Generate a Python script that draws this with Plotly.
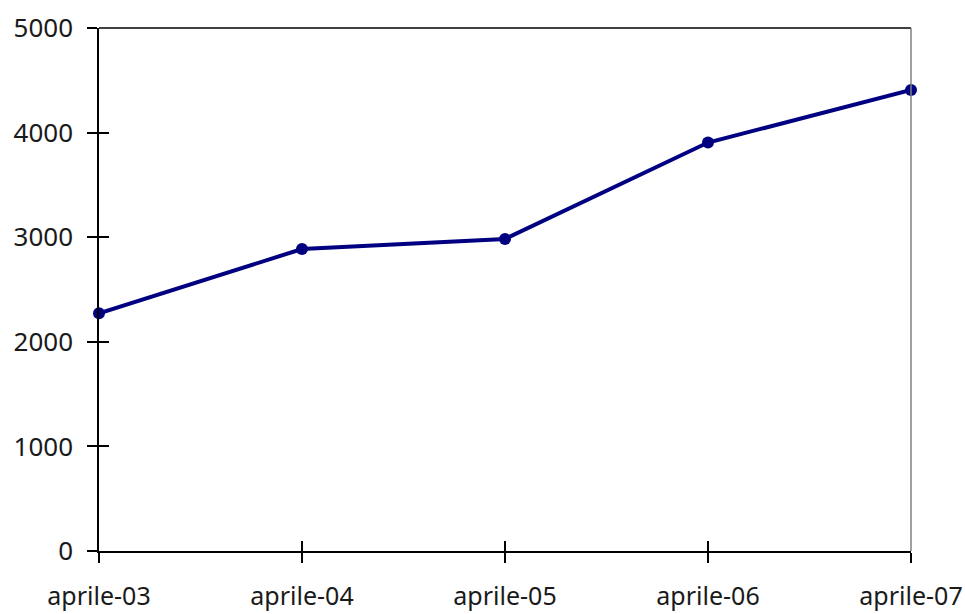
import plotly.graph_objects as go

categories = ["aprile-03", "aprile-04", "aprile-05", "aprile-06", "aprile-07"]
values = [2272, 2887, 2983, 3905, 4407]
y_ticks = [0, 1000, 2000, 3000, 4000, 5000]

xpos = list(range(len(categories)))

fig = go.Figure()
fig.add_trace(go.Scatter(x=[None], y=[None], xaxis="x2", yaxis="y2",
                         showlegend=False, hoverinfo="skip"))
fig.add_trace(go.Scatter(
    x=xpos, y=values, mode="lines+markers",
    line=dict(color="#000080", width=4),
    marker=dict(color="#000080", size=12),
    showlegend=False, cliponaxis=False,
))

font = dict(family="Noto Sans", size=26, color="#1a1a1a")
xfont = dict(family="Noto Sans", size=25, color="#1a1a1a")
xr = [0, len(categories) - 1]
yr = [0, 5000]

fig.update_layout(
    width=965, height=614,
    margin=dict(l=99, r=54, t=28, b=63),
    paper_bgcolor="white", plot_bgcolor="white",
    font=font,
    xaxis=dict(range=xr, tickmode="array", tickvals=xpos, ticktext=categories,
               showgrid=False, zeroline=False, showline=True, linecolor="black",
               linewidth=1.5, ticks="outside", ticklen=10, tickcolor="black",
               tickwidth=1.5, ticklabelstandoff=12, tickfont=xfont,
               automargin=False),
    yaxis=dict(range=yr, tickmode="array", tickvals=y_ticks,
               showgrid=False, zeroline=False, showline=True, linecolor="black",
               linewidth=1.5, ticks="outside", ticklen=10, tickcolor="black",
               tickwidth=1.5, ticklabelstandoff=9, tickfont=font,
               automargin=False),
    xaxis2=dict(range=xr, overlaying="x", tickmode="array", tickvals=xpos,
                showticklabels=False, showgrid=False, zeroline=False,
                showline=False, ticks="inside", ticklen=10, tickcolor="black",
                tickwidth=1.5, side="bottom", automargin=False),
    yaxis2=dict(range=yr, overlaying="y", tickmode="array", tickvals=y_ticks,
                showticklabels=False, showgrid=False, zeroline=False,
                showline=False, ticks="inside", ticklen=10, tickcolor="black",
                tickwidth=1.5, side="left", automargin=False),
    shapes=[
        dict(type="line", xref="paper", yref="paper", x0=0, x1=1, y0=1, y1=1,
             line=dict(color="black", width=1.5)),
        dict(type="line", xref="paper", yref="paper", x0=1, x1=1, y0=0, y1=1,
             line=dict(color="#808080", width=1.5)),
    ],
)

fig.write_html("out.html", config={"displayModeBar": False},
               post_script="document.body.style.margin='0';document.body.style.overflow='hidden';")
